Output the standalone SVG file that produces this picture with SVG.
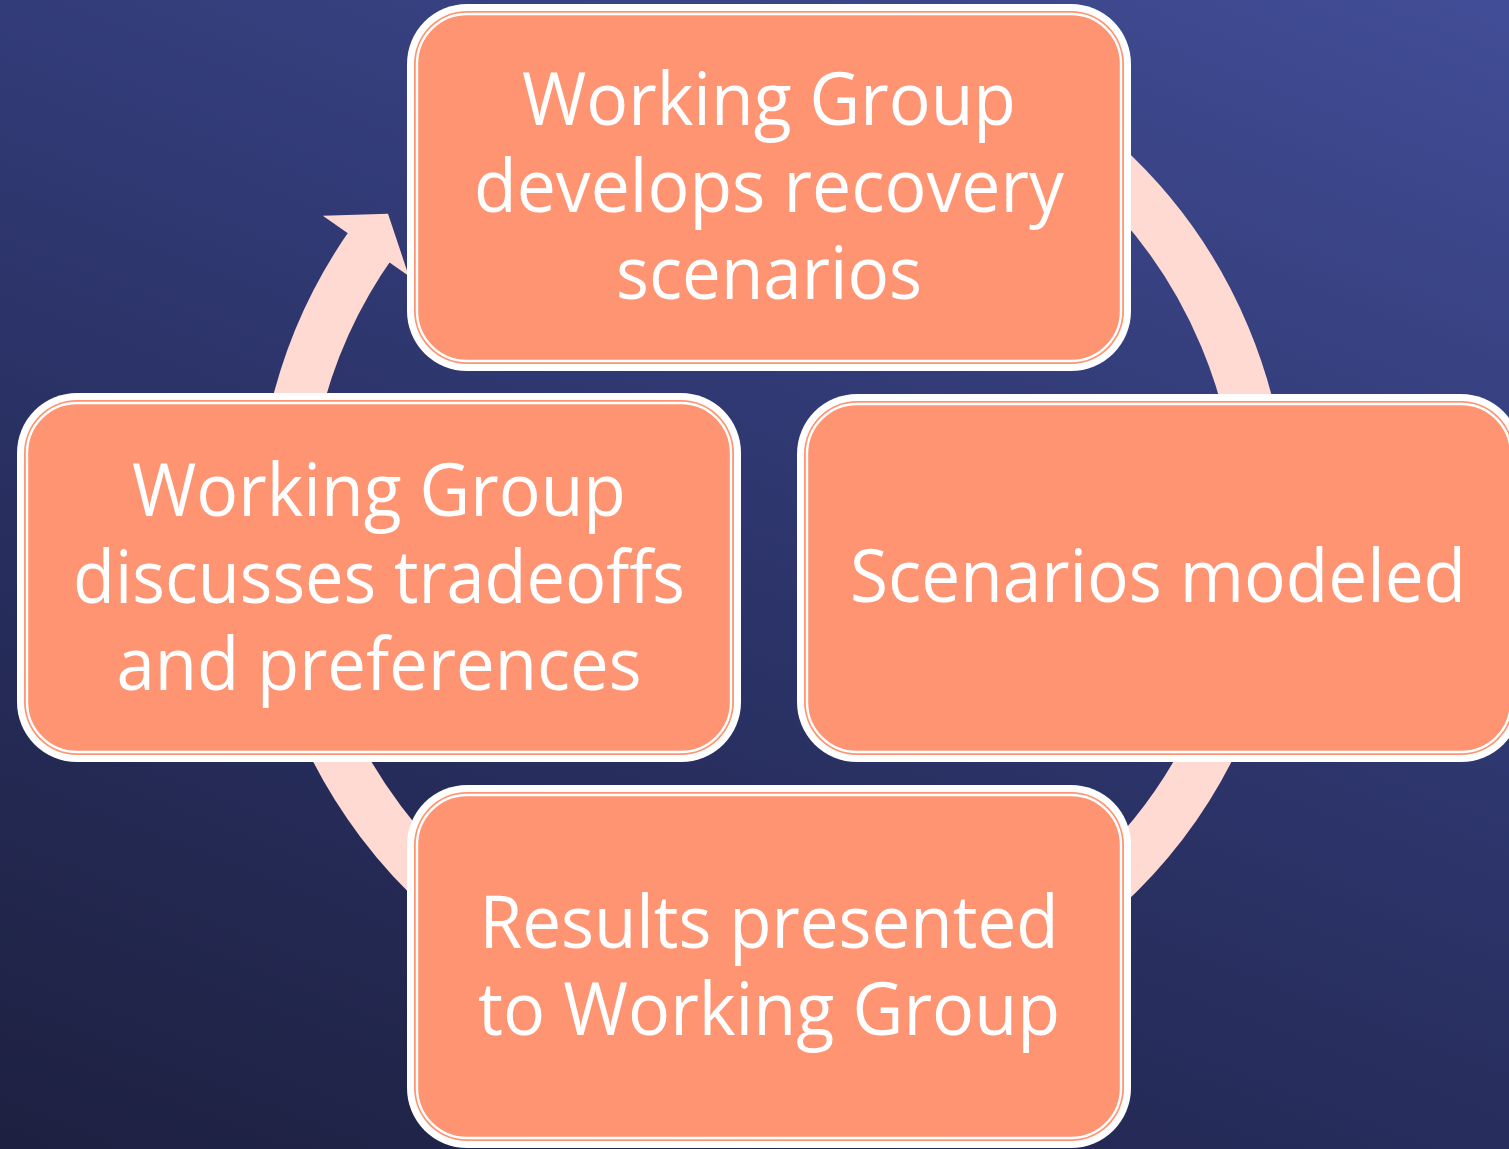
<svg xmlns="http://www.w3.org/2000/svg" width="1509" height="1149" viewBox="0 0 1509 1149">
  <defs>
    <linearGradient id="bg" gradientUnits="userSpaceOnUse" x1="1048" y1="-179" x2="459" y2="1328">
      <stop offset="0" stop-color="#414D96"/>
      <stop offset="0.5" stop-color="#2C346A"/>
      <stop offset="1" stop-color="#1D2040"/>
    </linearGradient>
  </defs>
  <style>
    .rim { fill: #FFFFFF; }
    .body { fill: #FF9473; }
    .line { fill: none; stroke: #FFFFFF; stroke-width: 2.4; }
    .ring { fill: none; stroke: #FFDAD3; stroke-width: 51; }
    .head { fill: #FFDAD3; }
    .label { font-family: "Open Sans", "Noto Sans", "DejaVu Sans", sans-serif; font-size: 73px; fill: #FFFFFF; text-anchor: middle; }
  </style>

  <!-- backdrop -->
  <rect x="0" y="0" width="1509" height="1149" fill="url(#bg)"/>

  <!-- cycle ring with arrowhead; the ring runs slightly under the head so they join cleanly -->
  <g id="connectors">
    <path class="ring" d="M 936.8 64.1 A 490.5 490.5 0 1 1 373.6 240.7"/>
    <polygon class="head" points="322.8,215.7 388.0,213.7 408.8,275.9"/>
  </g>

  <!-- top step -->
  <g id="node-develops">
    <rect class="rim" x="407" y="4" width="724" height="367" rx="60"/>
    <rect class="body" x="414" y="11" width="710" height="353" rx="53"/>
    <rect class="line" x="417" y="14" width="704" height="347" rx="50"/>
    <text class="label" x="769" y="125" textLength="494" lengthAdjust="spacingAndGlyphs">Working Group</text>
    <text class="label" x="769" y="212" textLength="590" lengthAdjust="spacingAndGlyphs">develops recovery</text>
    <text class="label" x="769" y="299" textLength="306" lengthAdjust="spacingAndGlyphs">scenarios</text>
  </g>

  <!-- right step -->
  <g id="node-modeled">
    <rect class="rim" x="797" y="394" width="724" height="368" rx="60"/>
    <rect class="body" x="804" y="401" width="710" height="354" rx="53"/>
    <rect class="line" x="807" y="404" width="704" height="348" rx="50"/>
    <text class="label" x="1158" y="602" textLength="616" lengthAdjust="spacingAndGlyphs">Scenarios modeled</text>
  </g>

  <!-- bottom step -->
  <g id="node-results">
    <rect class="rim" x="407" y="785" width="724" height="363" rx="60"/>
    <rect class="body" x="414" y="792" width="710" height="349" rx="53"/>
    <rect class="line" x="417" y="795" width="704" height="343" rx="50"/>
    <text class="label" x="769" y="948" textLength="579" lengthAdjust="spacingAndGlyphs">Results presented</text>
    <text class="label" x="769" y="1035" textLength="582" lengthAdjust="spacingAndGlyphs">to Working Group</text>
  </g>

  <!-- left step -->
  <g id="node-discusses">
    <rect class="rim" x="17" y="393" width="724" height="369" rx="60"/>
    <rect class="body" x="24" y="400" width="710" height="355" rx="53"/>
    <rect class="line" x="27" y="403" width="704" height="349" rx="50"/>
    <text class="label" x="379" y="516" textLength="494" lengthAdjust="spacingAndGlyphs">Working Group</text>
    <text class="label" x="379" y="603" textLength="612" lengthAdjust="spacingAndGlyphs">discusses tradeoffs</text>
    <text class="label" x="379" y="690" textLength="525" lengthAdjust="spacingAndGlyphs">and preferences</text>
  </g>
</svg>
